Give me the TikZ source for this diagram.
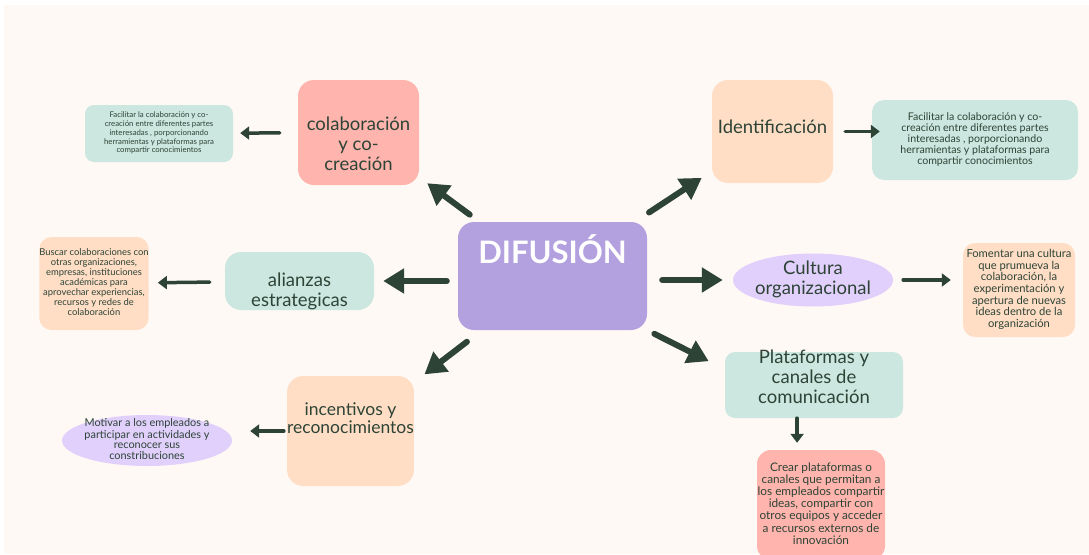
\documentclass[tikz,border=0pt]{standalone}
\usepackage{fontspec}
\setmainfont{Lato}
\usetikzlibrary{arrows.meta,shapes.geometric}
\definecolor{cream}{HTML}{FFF9F5}
\definecolor{rosebox}{HTML}{FFB5AD}
\definecolor{peachbox}{HTML}{FFDEC5}
\definecolor{mintbox}{HTML}{CCE7E0}
\definecolor{lilacdark}{HTML}{B3A0DE}
\definecolor{lilaclight}{HTML}{E1D0FC}
\definecolor{ink}{HTML}{2D4336}
\newcommand{\lns}[1]{\begin{tabular}{@{}c@{}}#1\end{tabular}}
\tikzset{
  box/.style={rounded corners=16pt, inner sep=0pt, text=ink, font=\fontsize{18.5}{20}\selectfont},
  leaf/.style={rounded corners=9pt, inner sep=0pt, text=ink},
  bigarrow/.style={draw=ink, line width=6pt, line cap=round, -{Triangle[length=21pt,width=24pt]}},
  smallarrow/.style={draw=ink, line width=3.5pt, line cap=round, -{Triangle[length=9pt,width=13pt]}}
}

\begin{document}
\begin{tikzpicture}[x=1pt,y=-1pt]
  \useasboundingbox (0,0) rectangle (1089,554);
  \fill[white] (0,0) rectangle (1089,554);
  \fill[cream] (4,5) rectangle (1089,554);

  \node[box, fill=lilacdark, minimum width=189pt, text height=41pt, text depth=67pt,
        text=white, font=\fontsize{31}{36}\selectfont\bfseries] (dif) at (552.5,276) {DIFUSIÓN};

  \node[box, fill=rosebox, minimum width=121pt, text height=71pt, text depth=34pt] (colab) at (358.5,132.5)
    {\lns{colaboración\\y co-\\creación}};
  \node[box, fill=peachbox, minimum width=121pt, text height=53pt, text depth=50pt] (ident) at (772.5,131.5)
    {Identificación};
  \node[box, fill=mintbox, minimum width=149pt, text height=45pt, text depth=13pt] (alian) at (299.5,281)
    {\lns{alianzas\\estrategicas}};
  \node[box, fill=peachbox, minimum width=125pt, text height=49pt, text depth=61pt,
        font=\fontsize{17.5}{18}\selectfont] (incent) at (350.5,431)
    {\lns{incentivos y\\reconocimientos}};
  \node[box, fill=mintbox, minimum width=178pt, text height=32pt, text depth=34pt, rounded corners=10pt] (plat) at (814,385)
    {\lns{Plataformas y\\canales de\\comunicación}};
  \node[ellipse, fill=lilaclight, minimum width=160pt, minimum height=53pt, inner sep=-8pt,
        text=ink, font=\fontsize{18.5}{20}\selectfont] (cult) at (813,280)
    {\lns{Cultura\\organizacional}};

  \node[leaf, fill=mintbox, minimum width=148pt, minimum height=57pt,
        font=\fontsize{7.8}{8.8}\selectfont] (colabnote) at (159,133.5)
    {\lns{Facilitar la colaboración y co-\\creación entre diferentes partes\\interesadas , porporcionando\\herramientas y plataformas para\\compartir conocimientos}};
  \node[leaf, fill=mintbox, minimum width=206pt, minimum height=80pt, rounded corners=12pt,
        font=\fontsize{10.6}{10}\selectfont] (identnote) at (975,140)
    {\lns{Facilitar la colaboración y co-\\creación entre diferentes partes\\interesadas , porporcionando\\herramientas y plataformas para\\compartir conocimientos}};
  \node[leaf, fill=peachbox, minimum width=108pt, minimum height=93pt, rounded corners=12pt,
        font=\fontsize{9.4}{9.8}\selectfont] (aliannote) at (94,283.5)
    {\lns{Buscar colaboraciones con\\otras organizaciones,\\empresas, instituciones\\académicas para\\aprovechar experiencias,\\recursos y redes de\\colaboración}};
  \node[leaf, fill=peachbox, minimum width=112pt, minimum height=94pt, rounded corners=12pt,
        font=\fontsize{11.2}{11.3}\selectfont] (cultnote) at (1019,290)
    {\lns{Fomentar una cultura\\que prumueva la\\colaboración, la\\experimentación y\\apertura de nuevas\\ideas dentro de la\\organización}};
  \node[ellipse, fill=lilaclight, minimum width=170pt, minimum height=51pt, inner sep=-10pt,
        text=ink, font=\fontsize{10.9}{10}\selectfont] (incentnote) at (147,440.5)
    {\lns{Motivar a los empleados a\\participar en actividades y\\reconocer sus\\constribuciones}};
  \node[leaf, fill=rosebox, minimum width=128pt, minimum height=110pt, rounded corners=14pt,
        font=\fontsize{11.8}{11.7}\selectfont] (platnote) at (821,505)
    {\lns{Crear plataformas o\\canales que permitan a\\los empleados compartir\\ideas, compartir con\\otros equipos y acceder\\a recursos externos de\\innovación}};

  \draw[bigarrow, shorten <=12pt, shorten >=10pt] (dif) -- (colab);
  \draw[bigarrow, shorten <=17pt, shorten >=12pt] (dif) -- (ident);
  \draw[bigarrow, shorten <=11pt, shorten >=9pt] (dif.west |- alian) -- (alian);
  \draw[bigarrow, shorten <=15pt, shorten >=10pt] (dif.east |- cult) -- (cult);
  \draw[bigarrow, shorten <=19pt, shorten >=13pt] (dif) -- (incent);
  \draw[bigarrow, shorten <=8pt, shorten >=18pt] (dif.south east) -- (plat.170);

  \draw[smallarrow, shorten <=18pt, shorten >=7pt] (colab) -- (colabnote);
  \draw[smallarrow, shorten <=12pt, shorten >=-8pt] (ident.east) -- (ident.east -| identnote.west);
  \draw[smallarrow, shorten <=15pt, shorten >=9pt] (alian) -- (aliannote);
  \draw[smallarrow, shorten <=10pt, shorten >=12pt] (cult.east) -- (cult.east -| cultnote.west);
  \draw[smallarrow, shorten <=3pt, shorten >=18pt] (incent.west) -- (incent.west -| incentnote.east);
  \draw[smallarrow, shorten <=0pt, shorten >=7pt] (plat.243) -- (plat.243 |- platnote.north);
\end{tikzpicture}
\end{document}
